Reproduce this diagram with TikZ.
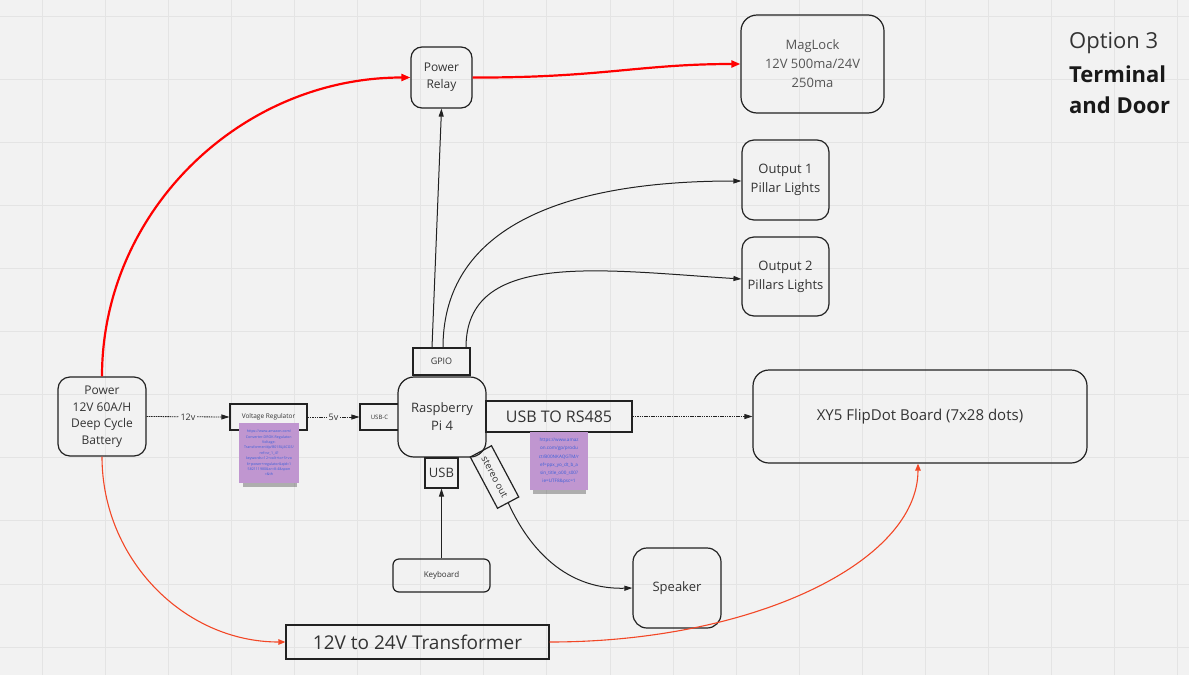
\documentclass[tikz,border=0pt]{standalone}
\usepackage{fontspec}
\setmainfont{Open Sans}
\usetikzlibrary{arrows.meta,calc}
\definecolor{bg}{HTML}{F2F2F2}
\definecolor{gridc}{HTML}{E4E4E4}
\definecolor{ink}{HTML}{333333}
\definecolor{greyink}{HTML}{555555}
\definecolor{edge}{HTML}{222222}
\definecolor{redA}{HTML}{FF0000}
\definecolor{redB}{HTML}{F24726}
\definecolor{sticky}{RGB}{192,150,208}
\definecolor{link}{HTML}{3A5FD9}
\newcommand\myfs[2]{\fontsize{#1}{#2}\selectfont}
\begin{document}
\begin{tikzpicture}[x=1pt,y=-1pt,
  box/.style={draw=edge,line width=1.2pt,text=ink,align=center,inner sep=0pt},
  rbox/.style={box,rounded corners=#1},
  thickred/.style={draw=redA,line width=2.2pt,-{Triangle[length=9pt,width=7pt]}},
  thinred/.style={draw=redB,line width=1.1pt,-{Triangle[length=7pt,width=5.5pt]}},
  wire/.style={draw=edge,line width=1pt,-{Triangle[length=8pt,width=5pt]}},
  dashwire/.style={draw=edge,line width=0.8pt,dash pattern=on 1.5pt off 0.8pt,-{Triangle[length=8pt,width=5pt]}},
  note/.style={fill=sticky,minimum width=#1,minimum height=#1,inner sep=0pt,text=link,align=center,font=\myfs{3.6}{5.4}},
  wlabel/.style={fill=bg,inner sep=1.5pt,text=ink,font=\myfs{9}{10}}
]
\fill[bg] (0,0) rectangle (1189,675);
\useasboundingbox (0,0) rectangle (1189,675);
\foreach \k in {0,...,18} \draw[gridc,line width=0.8pt] ({42+63.1*\k},0) -- ({42+63.1*\k},675);
\foreach \k in {0,...,10} \draw[gridc,line width=0.8pt] (0,{16+63.1*\k}) -- (1189,{16+63.1*\k});

% title
\node[anchor=base west,inner sep=0pt,text=ink,font=\myfs{22}{26}] (t1) at (1069,48) {Option 3};
\node[anchor=base west,inner sep=0pt,text=black!90,font=\myfs{22}{26}\bfseries] (t2) at (1069,82) {Terminal};
\node[anchor=base west,inner sep=0pt,text=black!90,font=\myfs{22}{26}\bfseries] (t3) at (1069,113) {and Door};

% nodes
\node[rbox=11pt,minimum width=61pt,minimum height=61pt,font=\myfs{12}{17}] (relay) at (441.5,77.5) {Power\\Relay};
\node[rbox=16pt,minimum width=143pt,minimum height=98pt,text=greyink,font=\myfs{13}{19}] (maglock) at (812.5,64) {MagLock\\12V 500ma/24V\\250ma};
\node[rbox=12pt,minimum width=87pt,minimum height=80pt,font=\myfs{13}{19}] (out1) at (785.5,180) {Output 1\\Pillar Lights};
\node[rbox=12pt,minimum width=87pt,minimum height=79pt,font=\myfs{13}{19}] (out2) at (785.5,276.5) {Output 2\\Pillars Lights};
\node[rbox=12pt,minimum width=88pt,minimum height=79pt,font=\myfs{12}{16.5}] (battery) at (102,416.5) {Power\\12V 60A/H\\Deep Cycle\\Battery};
\node[box,minimum width=77pt,minimum height=26pt,font=\myfs{6.5}{8}] (vreg) at (268.5,417) {Voltage Regulator};
\node[box,minimum width=39pt,minimum height=26pt,font=\myfs{6}{7}] (usbc) at (379.5,417) {USB-C};
\node[box,minimum width=57pt,minimum height=27pt,font=\myfs{9}{10}] (gpio) at (441.5,361.5) {GPIO};
\node[rbox=16pt,minimum width=88pt,minimum height=80pt,fill=bg,font=\myfs{13}{18}] (rpi) at (442,417) {Raspberry\\Pi 4};
\node[box,minimum width=146pt,minimum height=31pt,font=\myfs{16}{18}] (rs485) at (559,416.5) {USB TO RS485};
\node[box,minimum width=33pt,minimum height=30pt,font=\myfs{13}{15}] (usb) at (441.5,473) {USB};
\node[box,minimum width=58pt,minimum height=24pt,rotate=-62,font=\myfs{9.5}{11}] (stereo) at (494.5,477) {stereo out};
\node[rbox=6pt,minimum width=97pt,minimum height=33pt,font=\myfs{8}{9}] (keyboard) at (441.5,575.5) {Keyboard};
\node[rbox=14pt,minimum width=88pt,minimum height=80pt,font=\myfs{13}{15}] (speaker) at (677,588) {Speaker};
\node[box,minimum width=263pt,minimum height=34pt,font=\myfs{19}{22}] (trans) at (417.5,642) {12V to 24V Transformer};
\node[rbox=16pt,minimum width=334pt,minimum height=93pt,font=\myfs{15}{18}] (flip) at (920,416.5) {XY5 FlipDot Board (7x28 dots)};

% sticky notes with shadows
\foreach \o in {0.10,0.10,0.10} {
  \fill[black,opacity=\o] (243,474) rectangle (297,487);
  \fill[black,opacity=\o] (533,481) rectangle (586,494);
}
\node[note=60pt] (note1) at (269,453) {https://www.amazon.com/\\Converter-DROK-Regulator-\\Voltage-\\Transformer/dp/B01BLJ4CGS/\\ref=sr\_1\_4?\\keywords=12+volt+to+5+vo\\lt+power+regulator\&qid=1\\582111980\&sr=8-4\&spon\\=\&th};
\node[note=58pt,font=\myfs{4.6}{8.3}] (note2) at (559,461) {https://www.amaz\\on.com/gp/produ\\ct/B00NKAQGTM/r\\ef=ppx\_yo\_dt\_b\_a\\sin\_title\_o00\_s00?\\ie=UTF8\&psc=1};

% connectors
\draw[thickred] (battery.north) .. controls (102,212) and (240,77.5) .. (relay.west);
\draw[thickred] (relay.east) .. controls (600,78) and (640,64) .. (maglock.west);
\draw[thinred] (battery.south) .. controls (102,559) and (184,642) .. (trans.west);
\draw[thinred] (trans.east) .. controls (753,642) and (918,562) .. ([xshift=-2pt]flip.south);
\draw[wire] ([xshift=-9.5pt]gpio.north) -- (relay.south);
\draw[wire] ([xshift=1.5pt]gpio.north) .. controls (443,240) and (540,181) .. ([yshift=-1pt]out1.west);
\draw[wire] ([xshift=24.5pt]gpio.north) .. controls (466,250) and (600,270) .. ([yshift=-2.5pt]out2.west);
\draw[dashwire] (battery.east) -- node[wlabel] {12v} (vreg.west);
\draw[dashwire] (vreg.east) -- node[wlabel] {5v} (usbc.west);
\draw[dashwire] (rs485.east) -- (flip.west);
\draw[wire] (keyboard.north) -- (usb.south);
\draw[wire] (stereo.east) .. controls (525,540) and (560,590) .. (speaker.west);
\end{tikzpicture}
\end{document}
